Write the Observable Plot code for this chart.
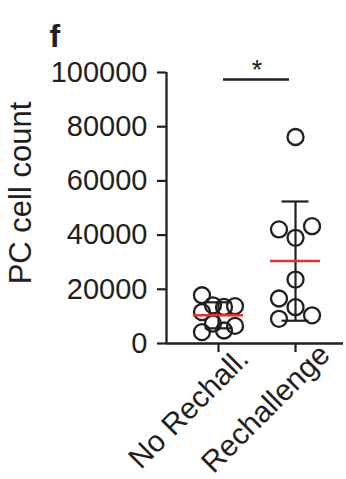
<!DOCTYPE html>
<html><head><meta charset="utf-8">
<script src="https://cdn.jsdelivr.net/npm/d3@7"></script>
<script src="https://cdn.jsdelivr.net/npm/@observablehq/plot@0.6"></script>
<style>
body{margin:0;background:#fff;}
#wrap{position:relative;width:346px;height:479px;}
</style>
</head><body>
<div id="wrap"></div>
<script>
const groups = ["No Rechall.", "Rechallenge"];
const noRechallValues = [17800, 14100, 13500, 13800, 11600, 7300, 6500, 4200, 4800];
const noRechallLanes = [-1.5, -0.5, 0.5, 1.5, -1.5, -0.5, 1.5, -1.5, 0.5];
const rechallengeValues = [76200, 42100, 43300, 39000, 23600, 16600, 13400, 9100, 10400];
const rechallengeLanes = [0, -1.5, 1.5, 0, 0, -1.5, 0, -1.5, 1.5];
const groupMeans = [10400, 30400];
const groupSDs = [4800, 22000];
const yTicks = [0, 20000, 40000, 60000, 80000, 100000];
const yLabel = "PC cell count";
const panelLabel = "f";
const significance = "*";
const significanceY = 97400;

const ink = "#231f20", red = "#e8302a";
const font = '"Liberation Sans", Arial, sans-serif';
const laneStep = 0.143, capHalf = 0.175, meanHalf = 0.325;
const xDomain = [-0.675, 1.623];

const points = [
  ...noRechallValues.map((v, k) => ({g: 0, v, lane: noRechallLanes[k]})),
  ...rechallengeValues.map((v, k) => ({g: 1, v, lane: rechallengeLanes[k]}))
];
const stats = groups.map((name, i) => ({i, name, mean: groupMeans[i], sd: groupSDs[i]}));

const chart = Plot.plot({
  width: 346, height: 479,
  marginLeft: 166, marginRight: 3, marginTop: 72, marginBottom: 136,
  x: {domain: xDomain},
  y: {domain: [yTicks[0], yTicks[yTicks.length - 1]]},
  style: {fontFamily: font, color: ink, background: "white", fontSize: "29px"},
  marks: [
    Plot.axisY({ticks: yTicks, tickSize: 9, tickPadding: 10, tickFormat: d3.format("d"), fontSize: 29, label: null, strokeWidth: 2.2}),
    Plot.axisX({ticks: stats.map(d => d.i), tickSize: 9, tickFormat: () => "", label: null, strokeWidth: 2.2}),
    Plot.ruleX([xDomain[0]], {y1: yTicks[0], y2: yTicks[yTicks.length - 1], stroke: ink, strokeWidth: 2.3}),
    Plot.ruleY([yTicks[0]], {x1: xDomain[0], x2: xDomain[1], stroke: ink, strokeWidth: 2.3}),
    Plot.ruleX(stats, {x: "i", y1: d => d.mean - d.sd, y2: d => d.mean + d.sd, stroke: ink, strokeWidth: 2.2}),
    Plot.ruleY(stats, {y: d => d.mean + d.sd, x1: d => d.i - capHalf, x2: d => d.i + capHalf, stroke: ink, strokeWidth: 2.2}),
    Plot.ruleY(stats, {y: d => d.mean - d.sd, x1: d => d.i - capHalf, x2: d => d.i + capHalf, stroke: ink, strokeWidth: 2.2}),
    Plot.dot(points, {x: d => d.g + d.lane * laneStep, y: "v", r: 8, stroke: ink, strokeWidth: 2.3, fill: "none"}),
    Plot.ruleY(stats, {y: "mean", x1: d => d.i - meanHalf, x2: d => d.i + meanHalf, stroke: red, strokeWidth: 2.5}),
    Plot.ruleY([significanceY], {x1: stats[0].i, x2: stats[1].i, insetLeft: 5, insetRight: 6, stroke: ink, strokeWidth: 2.5}),
    Plot.text([significance], {x: (stats[0].i + stats[1].i) / 2, y: significanceY, dy: -9, fontSize: 27, fill: ink}),
    Plot.text(stats, {x: "i", frameAnchor: "bottom", text: "name", rotate: -45, textAnchor: "middle", dx: -23, dy: 72, fontSize: 30, fill: ink}),
    Plot.text([yLabel], {frameAnchor: "left", rotate: -90, textAnchor: "middle", dx: -145, dy: -15, fontSize: 31, fill: ink}),
    Plot.text([panelLabel], {frameAnchor: "top-left", textAnchor: "start", dx: -117, dy: -48, fontSize: 32, fontWeight: "bold", fill: ink})
  ]
});
document.getElementById("wrap").appendChild(chart);
</script>
</body></html>
